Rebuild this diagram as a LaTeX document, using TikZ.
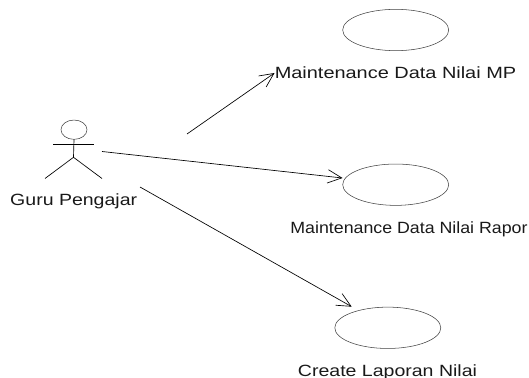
\documentclass[tikz,border=0pt]{standalone}
\usepackage{fontspec}
\setmainfont[FakeStretch=1.2]{Liberation Sans}
\newfontfamily\widefont[FakeStretch=1.225]{Liberation Sans}
\newfontfamily\narrowfont[FakeStretch=1.093]{Liberation Sans}
\usetikzlibrary{shapes.geometric, arrows.meta}

\begin{document}
\begin{tikzpicture}[
  x=0.75pt, y=-0.75pt,
  usecase/.style={draw=black!75, ellipse, line width=0.4pt, minimum width=79.5pt, minimum height=31pt, inner sep=0pt},
  lbl/.style={font=\fontsize{12.2}{14}\selectfont, inner sep=0pt, text=black!90},
  limb/.style={line width=0.5pt},
  assoc/.style={-{Straight Barb[length=10.5pt,width=10pt,line width=0.5pt]}, line width=0.5pt},
]
\useasboundingbox (0,0) rectangle (529,378);

% Actor
\node[draw=black!75, ellipse, line width=0.4pt, minimum width=19.5pt, minimum height=14.5pt, inner sep=0pt] (head) at (74,129.7) {};
\coordinate (hip) at (73.5,157.3);
\coordinate (armleft) at (53,144);
\coordinate (armright) at (94,144);
\coordinate (legleft) at (45,178.5);
\coordinate (legright) at (102,178.5);
\draw[limb] (head.south) -- (hip);
\draw[limb] (armleft) -- (armright);
\draw[limb] (legleft) -- (hip) -- (legright);
\node[lbl] (guru) at (73.7,201.5) {Guru Pengajar};

% Use cases
\node[usecase] (ucmp) at (395.7,30) {};
\node[usecase] (ucrapor) at (395.7,184.7) {};
\node[usecase] (uclaporan) at (387.8,327.8) {};
\node[lbl] (lblmp) at (395.5,73) {\widefont Maintenance Data Nilai MP};
\node[lbl] (lblrapor) at (409,229) {\narrowfont Maintenance Data Nilai Rapor};
\node[lbl] (lbllaporan) at (387.5,372) {Create Laporan Nilai};

% Associations
\coordinate (startmp) at (187,134);
\coordinate (startrapor) at (102,151.5);
\coordinate (startlaporan) at (140,187);
\coordinate (tiprapor) at (342.5,178);
\coordinate (tiplaporan) at (351.7,306.7);
\draw[assoc] (startmp) -- (lblmp.west);
\draw[assoc] (startrapor) -- (tiprapor);
\draw[assoc] (startlaporan) -- (tiplaporan);
\end{tikzpicture}
\end{document}
